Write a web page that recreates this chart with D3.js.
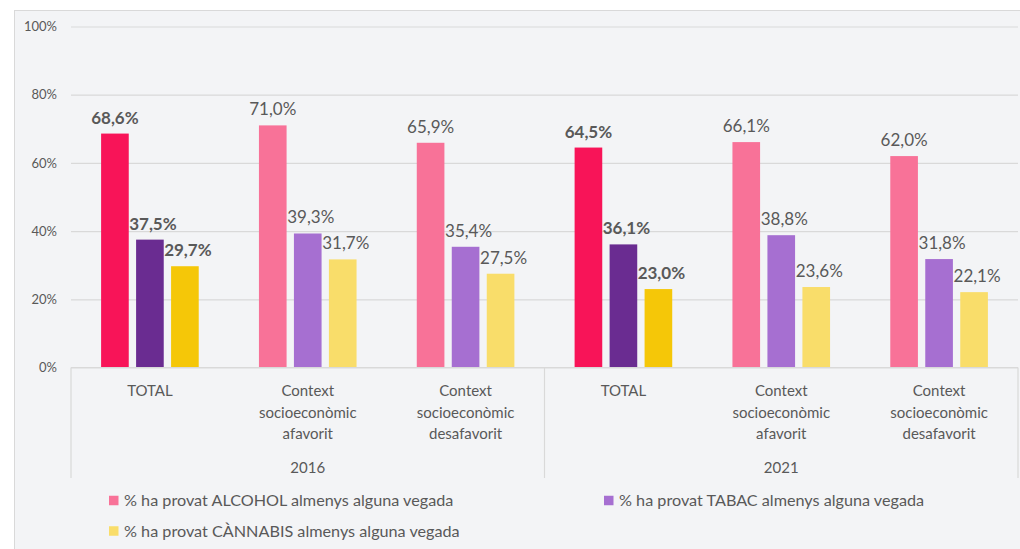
<!DOCTYPE html>
<html>
<head>
<meta charset="utf-8">
<script src="https://cdn.jsdelivr.net/npm/d3@7"></script>
<style>
  html, body { margin: 0; padding: 0; background: #ffffff; }
  svg { display: block; }
  text { font-family: Lato, "Open Sans", sans-serif; fill: #595959; }
</style>
</head>
<body>
<svg id="chart" width="1020" height="549"></svg>
<script>
// ---- data ----
const years = ["2016", "2021"];
const groups = ["TOTAL", "Context socioeconòmic afavorit", "Context socioeconòmic desafavorit"];
const groupLines = [["TOTAL"], ["Context", "socioeconòmic", "afavorit"], ["Context", "socioeconòmic", "desafavorit"]];
const seriesNames = [
  "% ha provat ALCOHOL almenys alguna vegada",
  "% ha provat TABAC almenys alguna vegada",
  "% ha provat CÀNNABIS almenys alguna vegada"
];
// values per category (year x group), order: alcohol, tabac, cannabis
const alcohol  = [68.6, 71.0, 65.9, 64.5, 66.1, 62.0];
const tabac    = [37.5, 39.3, 35.4, 36.1, 38.8, 31.8];
const cannabis = [29.7, 31.7, 27.5, 23.0, 23.6, 22.1];
const yTicks = [0, 20, 40, 60, 80, 100];

const totalColors = ["#F81458", "#6A2C91", "#F5C708"];
const subColors   = ["#F87298", "#A66FD1", "#F9DD6A"];

const svg = d3.select("#chart");

// chart area background & border
svg.append("rect")
  .attr("x", 14.5).attr("y", 10.5)
  .attr("width", 1020).attr("height", 560)
  .attr("fill", "#F3F4F6").attr("stroke", "#D9D9D9").attr("stroke-width", 1);

const plot = { left: 71, right: 1018, top: 26.5, bottom: 367.5 };

const categories = [];
years.forEach((yr, yi) => groups.forEach((g, gi) => categories.push({ year: yr, yi, gi, key: yr + "|" + g })));

const x = d3.scaleBand()
  .domain(categories.map(c => c.key))
  .range([plot.left, plot.right])
  .paddingInner(0.335).paddingOuter(0.1675);

const xs = d3.scaleBand()
  .domain([0, 1, 2])
  .range([0, x.bandwidth()])
  .paddingInner(0.21).paddingOuter(0.105);

const y = d3.scaleLinear().domain([0, 100]).range([plot.bottom, plot.top]);

// gridlines
const yAxis = d3.axisLeft(y).tickValues(yTicks).tickFormat(d => d + "%")
  .tickSize(-(plot.right - plot.left)).tickPadding(14);
const gy = svg.append("g").attr("transform", `translate(${plot.left},0)`).call(yAxis);
gy.select(".domain").remove();
gy.selectAll(".tick line").attr("stroke", "#D9D9D9").attr("stroke-width", 1.2);
gy.selectAll(".tick text").attr("font-size", 13).style("font-family", "Lato, sans-serif").attr("fill", "#595959");

// bars
const seriesValues = [alcohol, tabac, cannabis];
categories.forEach((c, ci) => {
  const isTotal = c.gi === 0;
  seriesValues.forEach((vals, si) => {
    const v = vals[ci];
    const bx = x(c.key) + xs(si);
    svg.append("rect")
      .attr("x", bx).attr("y", y(v))
      .attr("width", xs.bandwidth()).attr("height", y(0) - y(v))
      .attr("fill", isTotal ? totalColors[si] : subColors[si]);
    svg.append("text")
      .attr("x", bx + xs.bandwidth() / 2 + (si === 0 ? 0 : 3))
      .attr("y", y(v) - 10)
      .attr("text-anchor", "middle")
      .attr("font-size", 17)
      .attr("font-weight", isTotal ? "bold" : "normal")
      .text(v.toFixed(1).replace(".", ",") + "%");
  });
});

// category axis
svg.append("line")
  .attr("x1", plot.left).attr("x2", plot.right)
  .attr("y1", y(0)).attr("y2", y(0))
  .attr("stroke", "#D9D9D9").attr("stroke-width", 1.2);
const step = x.step();
[0, 3, 6].forEach(i => {
  const lx = plot.left + i * step;
  svg.append("line")
    .attr("x1", lx).attr("x2", lx)
    .attr("y1", y(0)).attr("y2", 478)
    .attr("stroke", "#D9D9D9").attr("stroke-width", 1.2);
});

categories.forEach(c => {
  const cx = x(c.key) + x.bandwidth() / 2;
  const t = svg.append("text").attr("text-anchor", "middle").attr("font-size", 15);
  groupLines[c.gi].forEach((ln, li) => {
    t.append("tspan").attr("x", cx).attr("y", 396 + li * 21.5).text(ln);
  });
});
years.forEach((yr, yi) => {
  const cx = plot.left + (yi * 3 + 1.5) * step;
  svg.append("text").attr("x", cx).attr("y", 473).attr("text-anchor", "middle")
    .attr("font-size", 15).text(yr);
});

// legend
const legendPos = [[109, 500.5], [604, 500.5], [109, 531]];
seriesNames.forEach((name, si) => {
  const [lx, ly] = legendPos[si];
  svg.append("rect").attr("x", lx).attr("y", ly - 4.75).attr("width", 9.5).attr("height", 9.5)
    .attr("fill", subColors[si]);
  svg.append("text").attr("x", lx + 15).attr("y", ly + 5.5).attr("font-size", 16.2).text(name);
});
</script>
</body>
</html>
